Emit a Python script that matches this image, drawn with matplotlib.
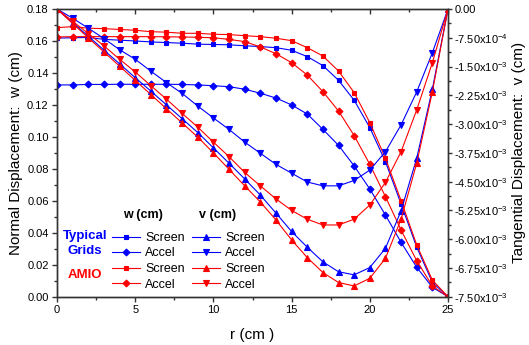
import numpy as np
import matplotlib
matplotlib.use("Agg")
import matplotlib.pyplot as plt
from matplotlib.ticker import FixedLocator, MultipleLocator

plt.rcParams['font.family'] = ['Liberation Sans', 'DejaVu Sans']
plt.rcParams['mathtext.fontset'] = 'custom'
plt.rcParams['mathtext.rm'] = 'Liberation Sans'
plt.rcParams['mathtext.it'] = 'Liberation Sans'
plt.rcParams['mathtext.bf'] = 'Liberation Sans:bold'

r = list(range(26))

# Normal displacement w (cm)
w_typ_screen = [0.1618, 0.1620, 0.1622, 0.1610, 0.1605, 0.1600, 0.1594, 0.1590, 0.1586, 0.1580,
                0.1578, 0.1576, 0.1570, 0.1565, 0.1558, 0.1542, 0.1502, 0.1446, 0.1354, 0.1229,
                0.1058, 0.0845, 0.0580, 0.0310, 0.0090, 0.0]
w_typ_accel = [0.1325, 0.1325, 0.1328, 0.1328, 0.1329, 0.1329, 0.1329, 0.1329, 0.1328, 0.1325,
               0.1320, 0.1314, 0.1298, 0.1273, 0.1243, 0.1200, 0.1143, 0.1047, 0.0947, 0.0818,
               0.0674, 0.0511, 0.0340, 0.0184, 0.0059, 0.0]
w_amio_screen = [0.1683, 0.1690, 0.1680, 0.1677, 0.1672, 0.1667, 0.1658, 0.1655, 0.1648, 0.1648,
                 0.1642, 0.1640, 0.1633, 0.1627, 0.1617, 0.1602, 0.1558, 0.1506, 0.1412, 0.1277,
                 0.1089, 0.0866, 0.0601, 0.0324, 0.0104, 0.0]
w_amio_accel = [0.1625, 0.1627, 0.1627, 0.1627, 0.1627, 0.1627, 0.1627, 0.1626, 0.1625, 0.1623,
                0.1620, 0.1610, 0.1596, 0.1563, 0.1520, 0.1464, 0.1387, 0.1283, 0.1162, 0.1008,
                0.0828, 0.0626, 0.0417, 0.0225, 0.0067, 0.0]

# Tangential displacement v (x1e-3 cm)
v_typ_screen = [0, -0.36, -0.71, -1.07, -1.43, -1.79, -2.14, -2.50, -2.86, -3.22,
                -3.62, -4.02, -4.43, -4.85, -5.32, -5.80, -6.21, -6.59, -6.85, -6.93,
                -6.74, -6.24, -5.26, -3.89, -2.09, 0]
v_typ_accel = [0, -0.24, -0.50, -0.77, -1.06, -1.31, -1.62, -1.92, -2.20, -2.53,
               -2.84, -3.14, -3.47, -3.76, -4.05, -4.28, -4.51, -4.61, -4.61, -4.47,
               -4.20, -3.72, -3.02, -2.16, -1.14, 0]
v_amio_screen = [0, -0.38, -0.75, -1.12, -1.49, -1.86, -2.23, -2.60, -2.97, -3.34,
                 -3.75, -4.18, -4.61, -5.03, -5.50, -6.02, -6.48, -6.87, -7.13, -7.22,
                 -7.02, -6.50, -5.48, -4.02, -2.16, 0]
v_amio_accel = [0, -0.32, -0.64, -0.96, -1.31, -1.64, -2.00, -2.35, -2.72, -3.08,
                -3.47, -3.85, -4.26, -4.61, -4.95, -5.25, -5.48, -5.63, -5.63, -5.48,
                -5.11, -4.52, -3.72, -2.63, -1.40, 0]

right_ticks = [0, -0.75e-3, -1.50e-3, -2.25e-3, -3.00e-3, -3.75e-3, -4.50e-3, -5.25e-3,
               -6.00e-3, -6.75e-3, -7.50e-3]
right_labels = ['0.00', r'-7.50x10$^{-4}$', r'-1.50x10$^{-3}$', r'-2.25x10$^{-3}$',
                r'-3.00x10$^{-3}$', r'-3.75x10$^{-3}$', r'-4.50x10$^{-3}$', r'-5.25x10$^{-3}$',
                r'-6.00x10$^{-3}$', r'-6.75x10$^{-3}$', r'-7.50x10$^{-3}$']

BLUE = '#0000ff'
RED = '#ff0000'

fig = plt.figure(figsize=(5.29, 3.45), dpi=100)
ax = fig.add_axes([57/529, 1-296.7/345, (448-57)/529, (296.7-9)/345])
ax2 = ax.twinx()

lw = 0.8
ms = 3.5
mew = 0.8
h1, = ax.plot(r, w_typ_screen, color=BLUE, lw=lw, marker='s', ms=ms, mew=mew)
h2, = ax.plot(r, w_typ_accel, color=BLUE, lw=lw, marker='D', ms=ms, mew=mew)
h3, = ax.plot(r, w_amio_screen, color=RED, lw=lw, marker='s', ms=ms, mew=mew)
h4, = ax.plot(r, w_amio_accel, color=RED, lw=lw, marker='D', ms=ms, mew=mew)

sc = 1e-3
mt = 4.0
h5, = ax2.plot(r, np.array(v_typ_screen)*sc, color=BLUE, lw=lw, marker='^', ms=mt, mew=mew)
h6, = ax2.plot(r, np.array(v_typ_accel)*sc, color=BLUE, lw=lw, marker='v', ms=mt, mew=mew)
h7, = ax2.plot(r, np.array(v_amio_screen)*sc, color=RED, lw=lw, marker='^', ms=mt, mew=mew)
h8, = ax2.plot(r, np.array(v_amio_accel)*sc, color=RED, lw=lw, marker='v', ms=mt, mew=mew)

ax.set_xlim(0, 25)
ax.set_ylim(0, 0.18)
ax2.set_ylim(-7.5e-3, 0)

ax.xaxis.set_major_locator(MultipleLocator(5))
ax.xaxis.set_minor_locator(MultipleLocator(2.5))
ax.yaxis.set_major_locator(MultipleLocator(0.02))
ax.yaxis.set_minor_locator(MultipleLocator(0.01))
ax.yaxis.set_major_formatter(matplotlib.ticker.FormatStrFormatter('%.2f'))
ax2.yaxis.set_major_locator(FixedLocator(right_ticks))
ax2.set_yticklabels(right_labels)
ax2.yaxis.set_minor_locator(MultipleLocator(0.375e-3))

for a in (ax, ax2):
    for s in a.spines.values():
        s.set_linewidth(1.0)
        s.set_color('#333333')
ax.tick_params(axis='both', which='both', direction='out', labelsize=8, colors='#333333',
               labelcolor='black', pad=2.5)
ax.tick_params(axis='x', which='both', top=True, labeltop=False)
ax.tick_params(which='major', length=3.5, width=1)
ax.tick_params(which='minor', length=2.2, width=1)
ax2.tick_params(axis='y', which='both', direction='out', labelsize=8, colors='#333333',
                labelcolor='black', pad=1.5)
ax2.tick_params(which='major', length=3, width=1)
ax2.tick_params(which='minor', length=2, width=1)
# top ticks point inward
for t in ax.xaxis.get_major_ticks() + ax.xaxis.get_minor_ticks():
    t.tick2line.set_marker(3)

ax.set_xlabel('r (cm )', fontsize=11, labelpad=9)
ax.set_ylabel('Normal Displacement:  w (cm)', fontsize=11, labelpad=3)
ax2.set_ylabel('Tangential Displacement:  v (cm)', fontsize=11, labelpad=3)

# Legend
fs = 9
fig.text(85/529, 1-236.5/345, 'Typical', color=BLUE, fontweight='bold', fontsize=9.5, ha='center', va='center')
fig.text(85/529, 1-251.5/345, 'Grids', color=BLUE, fontweight='bold', fontsize=9.5, ha='center', va='center')
fig.text(85/529, 1-275/345, 'AMIO', color=RED, fontweight='bold', fontsize=9.5, ha='center', va='center')
fig.text(143/529, 1-215/345, 'w (cm)', fontweight='bold', fontsize=fs, ha='center', va='center')
fig.text(218/529, 1-215/345, 'v (cm)', fontweight='bold', fontsize=fs, ha='center', va='center')

leg = ax.legend([h1, h2, h3, h4, h5, h6, h7, h8],
                ['Screen', 'Accel', 'Screen', 'Accel', 'Screen', 'Accel', 'Screen', 'Accel'],
                ncol=2, frameon=False, fontsize=fs, handlelength=2.2, handletextpad=0.45,
                columnspacing=0.6, labelspacing=0.28, borderpad=0, borderaxespad=0,
                loc='upper left', bbox_to_anchor=(112/529, 1-232/345),
                bbox_transform=fig.transFigure)

fig.savefig('out.png', dpi=100)
